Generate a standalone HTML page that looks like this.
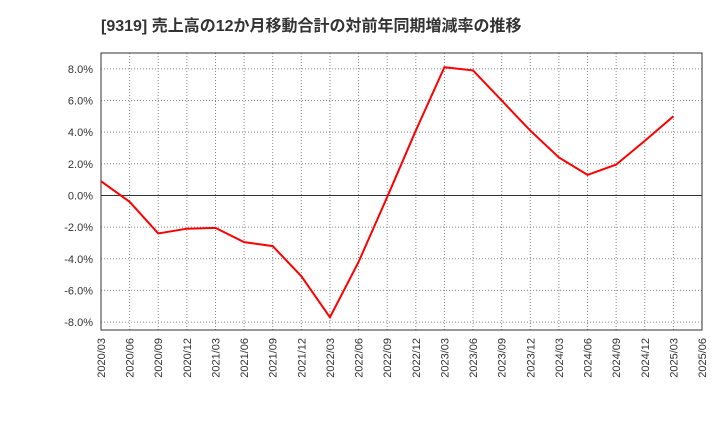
<!DOCTYPE html>
<html><head><meta charset="utf-8"><style>
body{margin:0;background:#fff;}
svg text{font-family:"Liberation Sans","Noto Sans CJK JP",sans-serif;}
</style></head><body>
<svg id="chart" width="720" height="440" xmlns="http://www.w3.org/2000/svg">
<text x="101" y="31" font-size="16" font-weight="bold" fill="#333">[9319]  売上高の12か月移動合計の対前年同期増減率の推移</text>
<g id="grid"></g><g id="axes"></g><g id="series"></g>
</svg>
<script>
const categories=["2020/03","2020/06","2020/09","2020/12","2021/03","2021/06","2021/09","2021/12","2022/03","2022/06","2022/09","2022/12","2023/03","2023/06","2023/09","2023/12","2024/03","2024/06","2024/09","2024/12","2025/03","2025/06"];
const values=[0.9,-0.4,-2.4,-2.1,-2.05,-2.95,-3.2,-5.1,-7.7,-4.2,-0.1,4.1,8.1,7.9,6.0,4.1,2.4,1.3,1.95,3.45,5.0];
const yTicks=[8,6,4,2,0,-2,-4,-6,-8];
const L=101,R=702,T=53,B=330,yMin=-8.5,yMax=9;
const NS="http://www.w3.org/2000/svg";
const xs=i=>L+(R-L)*i/(categories.length-1);
const ys=v=>B-(v-yMin)/(yMax-yMin)*(B-T);
const grid=document.getElementById('grid'),axes=document.getElementById('axes'),series=document.getElementById('series');
function mk(tag,attrs,parent){const e=document.createElementNS(NS,tag);for(const k in attrs)e.setAttribute(k,attrs[k]);parent.appendChild(e);return e;}
categories.forEach((c,i)=>{
  const x=xs(i);
  const g=mk('line',{x1:x,x2:x,y1:T,y2:B,stroke:'#888','stroke-dasharray':'1,2','stroke-width':1},grid);
  
  
  const t=mk('text',{x:0,y:0,'font-size':11,fill:'#333','text-anchor':'end',transform:`translate(${x+4},${B+8}) rotate(-90)`},axes);
  t.textContent=c;
  
  
});
yTicks.forEach(v=>{
  const y=ys(v);
  const g=mk('line',{x1:L,x2:R,y1:y,y2:y,stroke:v===0?'#333':'#888','stroke-dasharray':v===0?'':'1,2','stroke-width':1},grid);
  
  
  const t=mk('text',{x:L-8,y:y+4,'font-size':11,fill:'#333','text-anchor':'end'},axes);
  t.textContent=v.toFixed(1)+'%';
  
  
});
const frame=mk('rect',{x:L,y:T,width:R-L,height:B-T,fill:'none',stroke:'#333','stroke-width':1},axes);


const line=mk('polyline',{points:values.map((v,i)=>xs(i)+','+ys(v)).join(' '),fill:'none',stroke:'#ff0000','stroke-width':2},series);


</script>
</body></html>
